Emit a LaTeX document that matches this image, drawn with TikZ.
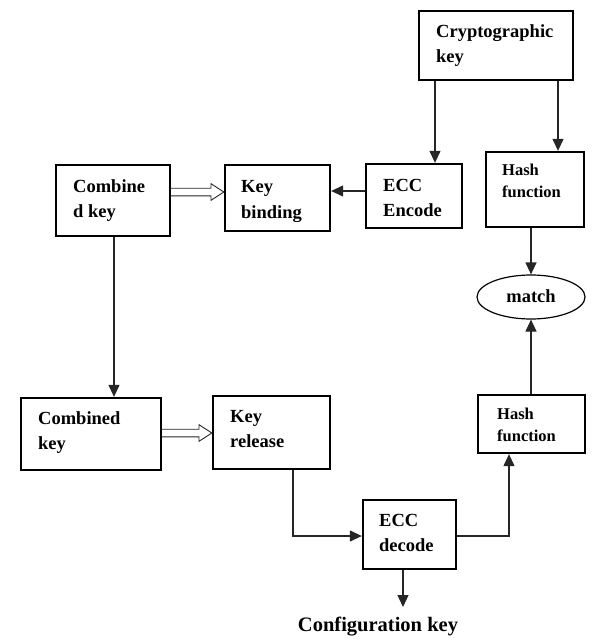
\documentclass[tikz,border=0pt]{standalone}
\usepackage{fontspec}
\setmainfont{Liberation Serif}
\usetikzlibrary{arrows.meta,calc,shapes.geometric}
\begin{document}
\begin{tikzpicture}[x=1pt,y=-1pt,
  box/.style={draw=black,line width=2.3pt,rectangle,inner sep=0pt},
  lbl/.style={anchor=base west,inner sep=0pt,font=\fontsize{18.5}{25}\selectfont\bfseries,align=left},
  lblsmall/.style={anchor=base west,inner sep=0pt,font=\fontsize{16.5}{21.5}\selectfont\bfseries,align=left},
  conn/.style={draw=black!85,line width=1.2pt,-{Triangle[length=12pt,width=11pt]}},
  hollow/.style={draw=black!85,line width=0.9pt,fill=white,line join=miter}
]
\useasboundingbox (0,0) rectangle (612,639);
% boxes
\node[box,minimum width=154pt,minimum height=69pt] (crypto) at (496,45.5) {};
\node[box,minimum width=98pt,minimum height=75pt] (hashA) at (535,189.5) {};
\node[box,minimum width=96pt,minimum height=64pt] (ecce) at (414,196) {};
\node[box,minimum width=105pt,minimum height=66pt] (keyb) at (277.5,198) {};
\node[box,minimum width=114pt,minimum height=71pt] (combA) at (113,200.5) {};
\node[draw=black,line width=1.2pt,ellipse,minimum width=108pt,minimum height=44pt,inner sep=0pt] (match) at (531,297) {};
\node[box,minimum width=140pt,minimum height=72pt] (combB) at (91,434) {};
\node[box,minimum width=117pt,minimum height=73pt] (keyr) at (271.5,432.5) {};
\node[box,minimum width=107pt,minimum height=58pt] (hashB) at (531.5,424) {};
\node[box,minimum width=93pt,minimum height=69pt] (eccd) at (409.5,534.5) {};
% labels (anchored at the baseline of the last line)
\node[lbl] (tcrypto) at (436,63) {Cryptographic\\key};
\node[lblsmall] (thashA) at (502,197) {Hash\\function};
\node[lbl] (tecce) at (383,216) {ECC\\Encode};
\node[lbl] (tkeyb) at (241,218) {Key\\binding};
\node[lbl] (tcombA) at (73,217) {Combine\\d key};
\node[anchor=base,inner sep=0pt,font=\fontsize{18.5}{22}\selectfont\bfseries] (tmatch) at (531,302) {match};
\node[lbl] (tcombB) at (38,449) {Combined\\key};
\node[lbl] (tkeyr) at (230,447) {Key\\release};
\node[lblsmall] (thashB) at (497,441) {Hash\\function};
\node[lbl] (teccd) at (379,551) {ECC\\decode};
\node[anchor=base,inner sep=0pt,font=\fontsize{20.5}{24}\selectfont\bfseries] (config) at (378,631) {Configuration key};
% connectors
\draw[conn] (crypto.south -| 435,0) -- (ecce.north -| 435,0);
\draw[conn] (crypto.south -| 558,0) -- (hashA.north -| 558,0);
\draw[conn] (ecce.west |- 0,191) -- (keyb.east |- 0,191);
\draw[conn] (hashA.south -| match.north) -- (match.north);
\draw[conn] (combA.south -| 114,0) -- (combB.north -| 114,0);
\draw[conn] (keyr.south -| 293,0) -- (293,536) -- (eccd.west |- 0,536);
\draw[conn] (eccd.east |- 0,536) -- (509,536) -- (hashB.south -| 509,0);
\draw[conn] (hashB.north -| match.south) -- (match.south);
\coordinate (cfgtop) at (403,607);
\draw[conn] (eccd.south -| cfgtop) -- (cfgtop);
% hollow double arrows
\draw[hollow] (combA.east |- 0,188.2) -- (211,188.2) -- (211,183.7) -- (keyb.west |- 0,192) -- (211,200.3) -- (211,195.8) -- (combA.east |- 0,195.8);
\draw[hollow] (combB.east |- 0,429.2) -- (199,429.2) -- (199,424.7) -- (keyr.west |- 0,433) -- (199,441.3) -- (199,436.8) -- (combB.east |- 0,436.8);
\end{tikzpicture}
\end{document}
